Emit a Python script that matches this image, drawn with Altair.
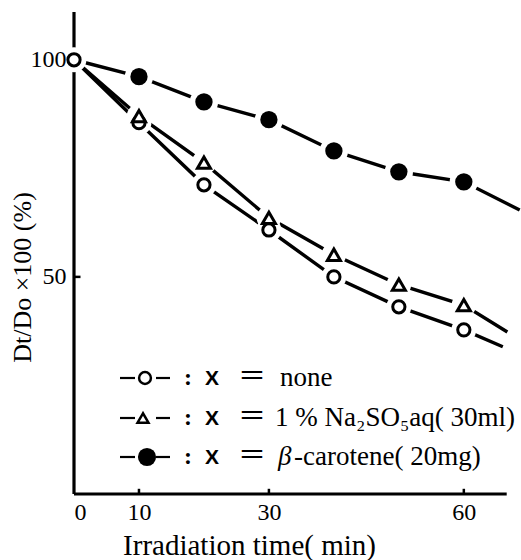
import altair as alt
import pandas as pd

# ---- data ----
time = [0, 10, 20, 30, 40, 50, 60]
none_vals = [100, 85.5, 71.2, 60.8, 50.0, 43.1, 37.8]
na_vals = [100, 87.0, 76.3, 63.6, 55.1, 48.2, 43.5]
car_vals = [100, 96.1, 90.3, 86.2, 79.0, 74.2, 71.9]
# where each drawn curve runs off past the last measured point
tail_time = {"none": 66.0, "na": 66.7, "car": 68.6}
tail_vals = {"none": 33.9, "na": 37.3, "car": 65.4}

series_names = ["none", "na", "car"]
series_vals = {"none": none_vals, "na": na_vals, "car": car_vals}

x_tick_vals = [10, 30, 60]
x_label_vals = [0, 10, 30, 60]
y_tick_vals = [50]
y_label_vals = [50, 100]
x_axis_end = 66.6
y_axis_end = 111

legend_labels = {
    "none": "none",
    "na": "1 % Na\u2082SO\u2085aq( 30ml)",
    "car": "-carotene( 20mg)",
}

SERIF = "'Liberation Serif', 'Times New Roman', Times, serif"

# ---- tables ----
rows = []
for s in series_names:
    for i, (t, v) in enumerate(zip(time, series_vals[s])):
        rows.append({"series": s, "t": t, "v": v, "o": i})
    rows.append({"series": s, "t": tail_time[s], "v": tail_vals[s], "o": len(time)})
lines_df = pd.DataFrame(rows)

def markers(s):
    ts = time if s == "none" else time[1:]
    vs = series_vals[s] if s == "none" else series_vals[s][1:]
    return pd.DataFrame({"t": ts, "v": vs})

xs = alt.Scale(domain=[0, 68.8], nice=False, zero=False)
ys = alt.Scale(domain=[0, y_axis_end], nice=False, zero=False)

xaxis = alt.Axis(values=x_label_vals, labelFont=SERIF, labelFontSize=24, labelPadding=6,
                 labelColor="black", ticks=False, domain=False, grid=False, zindex=1,
                 title="Irradiation time( min)", titleFont=SERIF, titleFontSize=29,
                 titleFontWeight="normal", titleColor="black", titleX=175, titleY=60,
                 titleAlign="center", titleBaseline="alphabetic")
yaxis = alt.Axis(values=y_label_vals, labelFont=SERIF, labelFontSize=24, labelPadding=8,
                 labelColor="black", ticks=False, domain=False, grid=False, zindex=1,
                 title="Dt/Do \u00d7100 (%)", titleFont=SERIF, titleFontSize=26,
                 titleFontWeight="normal", titleColor="black", titleX=-52, titleY=265,
                 titleAlign="center", titleBaseline="middle", titleAngle=270)

def X(f="t"):
    return alt.X(f, type="quantitative", scale=xs, axis=xaxis)

def Y(f="v"):
    return alt.Y(f, type="quantitative", scale=ys, axis=yaxis)

layers = []

# axis lines (drawn as rules)
axes_df = pd.DataFrame({"x1": [0, 0], "x2": [x_axis_end, 0], "y1": [0, 0], "y2": [0, y_axis_end]})
layers.append(alt.Chart(axes_df).mark_rule(color="black", strokeWidth=3.2).encode(
    x=X("x1"), x2="x2", y=Y("y1"), y2="y2"))
xt_df = pd.DataFrame({"t": x_tick_vals, "a": [0] * 3, "b": [1.2] * 3})
layers.append(alt.Chart(xt_df).mark_rule(color="black", strokeWidth=2.5).encode(
    x=X("t"), y=Y("a"), y2="b"))
yt_df = pd.DataFrame({"v": y_tick_vals, "a": [0], "b": [1.0]})
layers.append(alt.Chart(yt_df).mark_rule(color="black", strokeWidth=2.5).encode(
    y=Y("v"), x=X("a"), x2="b"))

# curves
layers.append(alt.Chart(lines_df).mark_line(color="black", strokeWidth=3.4).encode(
    x=X(), y=Y(), detail="series:N", order="o:Q"))

shapes = {"none": "circle", "na": "triangle-up", "car": "circle"}
msize = {"none": 150, "na": 170, "car": 300}
hsize = {"none": 620, "na": 600, "car": 800}

# white gaps round markers
for s in series_names:
    layers.append(alt.Chart(markers(s)).mark_point(
        shape="circle", filled=True, color="white", opacity=1, size=hsize[s]).encode(x=X(), y=Y()))
# markers
for s in series_names:
    if s == "car":
        m = alt.Chart(markers(s)).mark_point(shape="circle", filled=True, color="black",
                                             opacity=1, size=msize[s])
    else:
        m = alt.Chart(markers(s)).mark_point(shape=shapes[s], filled=False, fill="white",
                                             fillOpacity=1, stroke="black", strokeWidth=3,
                                             opacity=1, size=msize[s])
    layers.append(m.encode(x=X(), y=Y()))

# ---- legend inside the plot (pixel layout) ----
one = pd.DataFrame({"a": [0]})
row_y = {"none": 366, "na": 406, "car": 445}
sym_x = {"none": 71, "na": 69, "car": 73}
lsize = {"none": 140, "na": 120, "car": 330}
text_x = {"none": 206, "na": 201, "car": 204}
for s in series_names:
    yy = row_y[s]
    layers.append(alt.Chart(one).mark_rule(color="black", strokeWidth=2.2).encode(
        x=alt.value(46), x2=alt.value(61), y=alt.value(yy)))
    layers.append(alt.Chart(one).mark_rule(color="black", strokeWidth=2.2).encode(
        x=alt.value(82), x2=alt.value(96), y=alt.value(yy)))
    if s == "car":
        mk = alt.Chart(one).mark_point(shape="circle", filled=True, color="black", opacity=1,
                                       size=lsize[s])
    else:
        mk = alt.Chart(one).mark_point(shape=shapes[s], filled=False, fill="white", fillOpacity=1,
                                       stroke="black", strokeWidth=2.5, opacity=1, size=lsize[s])
    layers.append(mk.encode(x=alt.value(sym_x[s]), y=alt.value(yy)))
    layers.append(alt.Chart(pd.DataFrame({"t": [":"]})).mark_text(
        font=SERIF, fontSize=24, fontWeight="bold", color="black", align="center", baseline="middle").encode(
        x=alt.value(114), y=alt.value(yy), text="t:N"))
    layers.append(alt.Chart(pd.DataFrame({"t": ["X"]})).mark_text(
        font="'Liberation Sans', Arial, sans-serif", fontSize=21, fontWeight="bold", color="black",
        align="center", baseline="middle").encode(
        x=alt.value(138), y=alt.value(yy + 1), text="t:N"))
    layers.append(alt.Chart(pd.DataFrame({"t": ["\uff1d"]})).mark_text(
        font="'Noto Sans CJK JP'", fontSize=28, color="black", align="center", baseline="middle").encode(
        x=alt.value(178), y=alt.value(yy), text="t:N"))
    tx = text_x[s]
    if s == "car":
        layers.append(alt.Chart(pd.DataFrame({"t": ["\u03b2"]})).mark_text(
            font=SERIF, fontSize=27, fontStyle="italic", color="black", align="left", baseline="middle").encode(
            x=alt.value(tx), y=alt.value(yy), text="t:N"))
        tx += 16
    layers.append(alt.Chart(pd.DataFrame({"t": [legend_labels[s]]})).mark_text(
        font=SERIF, fontSize=27, color="black", align="left", baseline="middle").encode(
        x=alt.value(tx), y=alt.value(yy), text="t:N"))

chart = alt.layer(*layers).properties(
    width=447, height=482,
    autosize=alt.AutoSizeParams(type="none"),
    padding={"left": 74, "top": 12, "right": 0, "bottom": 66},
    background="white",
).configure_view(stroke=None)

chart.save("out.html", embed_options={"renderer": "svg", "actions": False})
